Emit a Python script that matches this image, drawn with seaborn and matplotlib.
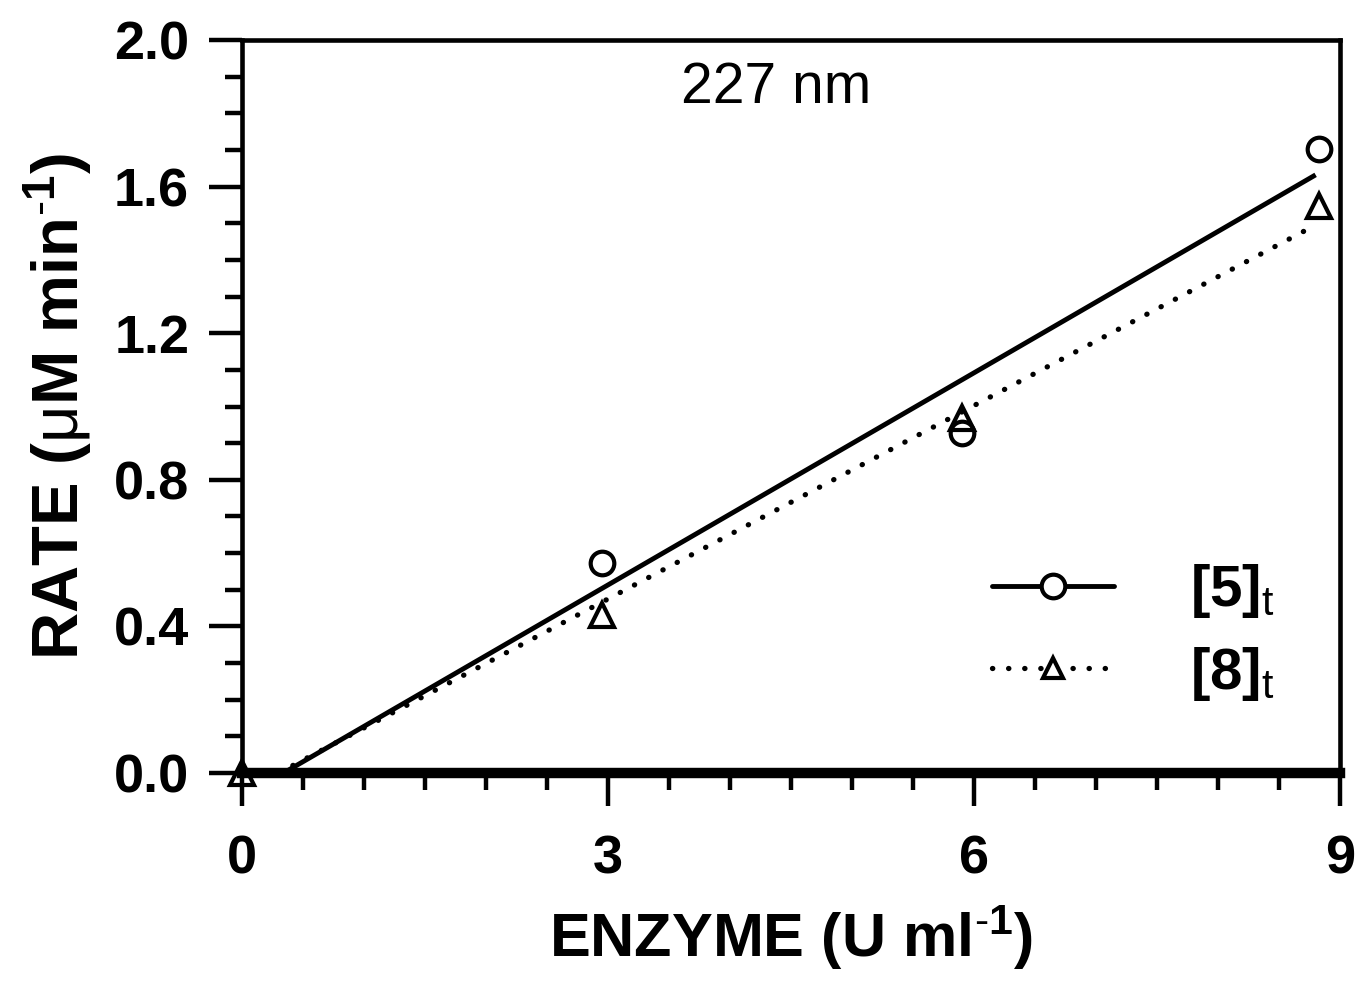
import matplotlib
matplotlib.use("Agg")
import matplotlib.pyplot as plt
import seaborn as sns
import pandas as pd
from matplotlib.lines import Line2D

# ---- data ----
enzyme_5 = [2.95, 5.90, 8.83]
rate_5 = [0.573, 0.928, 1.703]
enzyme_8 = [0.0, 2.95, 5.90, 8.83]
rate_8 = [0.0, 0.431, 0.969, 1.547]
fit5_x = [0.34, 8.80]
fit5_y = [0.0, 1.632]
fit8_x = [0.30, 8.80]
fit8_y = [0.0, 1.495]
x_ticks = [0, 3, 6, 9]
y_ticks = [0.0, 0.4, 0.8, 1.2, 1.6, 2.0]
labels = [r"$\mathbf{[5]}_{\mathrm{t}}$", r"$\mathbf{[8]}_{\mathrm{t}}$"]

sns.set_theme(style="white")
plt.rcParams['font.family'] = ['Liberation Sans', 'DejaVu Sans']
plt.rcParams['mathtext.fontset'] = 'custom'
plt.rcParams['mathtext.rm'] = 'Liberation Sans'
plt.rcParams['mathtext.bf'] = 'Liberation Sans:bold'
plt.rcParams['mathtext.it'] = 'Liberation Sans:italic'
plt.rcParams['text.color'] = 'black'
plt.rcParams['axes.labelcolor'] = 'black'
plt.rcParams['xtick.color'] = 'black'
plt.rcParams['ytick.color'] = 'black'

fig = plt.figure(figsize=(13.55, 9.85), dpi=100)
ax = fig.add_axes([242/1355, 1-773/985, (1340-242)/1355, (773-40)/985])

df5 = pd.DataFrame({"x": enzyme_5, "y": rate_5})
df8 = pd.DataFrame({"x": enzyme_8, "y": rate_8})
dfl5 = pd.DataFrame({"x": fit5_x, "y": fit5_y})
dfl8 = pd.DataFrame({"x": fit8_x, "y": fit8_y})

sns.lineplot(data=dfl5, x="x", y="y", ax=ax, color="black", lw=3.5,
             solid_capstyle="butt", estimator=None, sort=False)
sns.lineplot(data=dfl8, x="x", y="y", ax=ax, color="black", lw=3.8,
             linestyle=(0, (0.05, 3.0)), dash_capstyle="round", estimator=None, sort=False)
sns.lineplot(data=df5, x="x", y="y", ax=ax, marker="o", linestyle="", color="black",
             markerfacecolor="none", markeredgecolor="black", markersize=17, mew=3,
             estimator=None, sort=False, clip_on=False)
sns.lineplot(data=df8, x="x", y="y", ax=ax, marker="^", linestyle="", color="black",
             markerfacecolor="none", markeredgecolor="black", markersize=17, mew=3,
             estimator=None, sort=False, clip_on=False)

ax.set_xlim(0, 9)
ax.set_ylim(0, 2.0)
ax.set_xticks(x_ticks)
ax.set_xticklabels([str(v) for v in x_ticks])
ax.set_yticks(y_ticks)
ax.set_yticklabels([f"{v:.1f}" for v in y_ticks])
ax.set_xticks([v * 0.5 for v in range(19) if v % 6 != 0], minor=True)
ax.set_yticks([v * 0.1 for v in range(21) if v % 4 != 0], minor=True)

for s in ["left", "top", "right"]:
    ax.spines[s].set_linewidth(3.3)
    ax.spines[s].set_color("black")
ax.spines["bottom"].set_linewidth(7.5)
ax.spines["bottom"].set_color("black")

ax.tick_params(axis="both", which="major", direction="out", length=24, width=3.2,
               color="black", labelsize=39, pad=14)
ax.tick_params(axis="x", which="major", pad=20)
ax.tick_params(axis="both", which="minor", direction="out", length=12, width=3.2, color="black")
ax.tick_params(left=True, bottom=True, top=False, right=False, which="both")
for lab in ax.get_xticklabels() + ax.get_yticklabels():
    lab.set_fontweight("bold")

ax.set_xlabel(r"ENZYME (U ml$^{\text{-}\mathbf{1}}$)", fontsize=44, fontweight="bold", labelpad=14)
ax.set_ylabel(r"RATE ($\mathrm{\mu}$M min$^{\text{-}\mathbf{1}}$)", fontsize=47,
              fontweight="bold", labelpad=14)

ax.text(0.486, 0.935, "227 nm", transform=ax.transAxes, ha="center", va="center",
        fontsize=41)

h5 = Line2D([], [], color="black", lw=3.5, marker="o", markerfacecolor="white",
            markeredgecolor="black", markersize=17, mew=3)
h8 = Line2D([], [], color="black", lw=3.8, linestyle=(0, (0.05, 3.0)), dash_capstyle="round",
            marker="^", markerfacecolor="white", markeredgecolor="black", markersize=15, mew=3)
ax.legend([h5, h8], labels, loc="center left", bbox_to_anchor=(0.635, 0.192),
          frameon=False, fontsize=42, handlelength=2.1, handletextpad=1.3,
          labelspacing=0.42)

fig.savefig("out.png", dpi=100)
